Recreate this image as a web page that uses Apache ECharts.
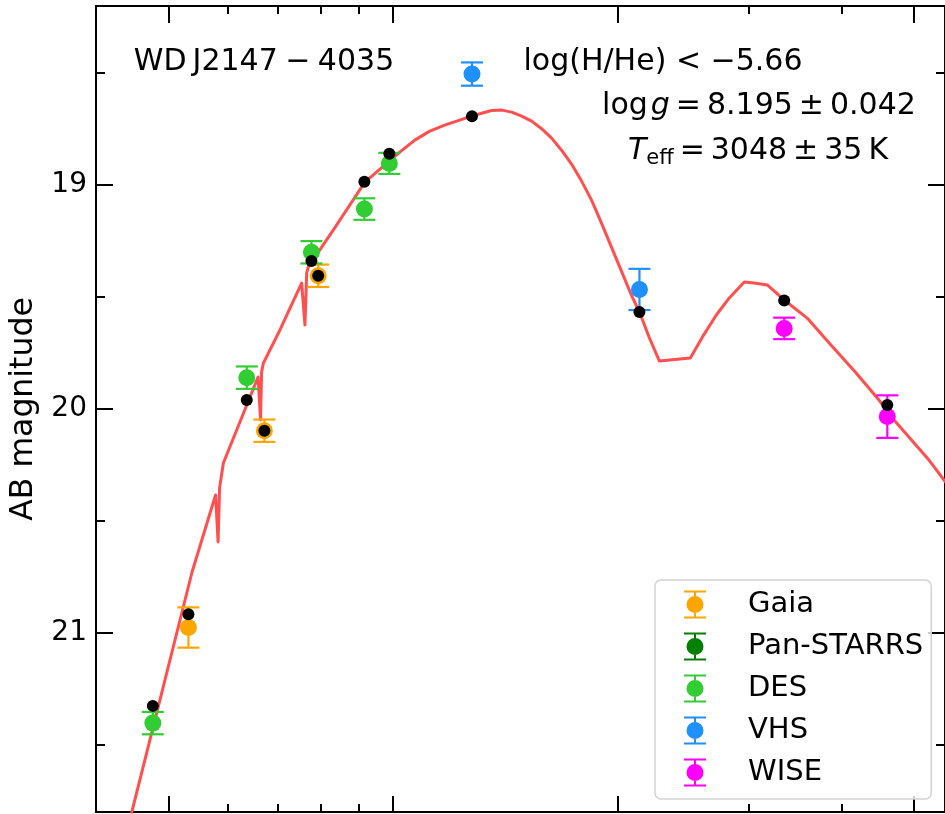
<!DOCTYPE html>
<html>
<head>
<meta charset="utf-8">
<script src="https://cdn.jsdelivr.net/npm/echarts@6/dist/echarts.min.js"></script>
<style>
  html, body { margin: 0; padding: 0; background: #fff; }
  #chart { width: 945px; height: 814px; }
</style>
</head>
<body>
<div id="chart"></div>
<script>
// Model spectrum of the cool helium-atmosphere white dwarf (wavelength in micron, AB mag)
const modelWave = [0.446, 0.5381, 0.5786, 0.5831, 0.5858, 0.5927, 0.6597, 0.6648,
  0.6669, 0.6706, 0.7058, 0.7547, 0.7625, 0.7665, 0.7703, 0.8320, 0.9174, 1.0218,
  1.0702, 1.1208, 1.1738, 1.2292, 1.2757, 1.3154, 1.3566, 1.3996, 1.4434, 1.4885,
  1.5353, 1.5830, 1.6326, 1.6837, 1.7363, 1.7910, 1.8470, 1.9045, 1.9641, 2.0256,
  2.0829, 2.1414, 2.2084, 2.2776, 2.5057, 2.6001, 2.7148, 2.8260, 2.9597, 3.0711,
  3.1769, 3.3477, 3.5938, 3.8463, 4.1803, 4.4856, 4.6986, 5.2345, 5.55];
const modelMag = [21.81, 20.728, 20.384, 20.594, 20.353, 20.241, 19.857, 20.049,
  19.835, 19.795, 19.647, 19.438, 19.625, 19.393, 19.365, 19.201, 18.987, 18.853,
  18.799, 18.759, 18.732, 18.710, 18.692, 18.679, 18.667, 18.665, 18.674, 18.692,
  18.714, 18.748, 18.790, 18.844, 18.906, 18.982, 19.067, 19.170, 19.277, 19.384,
  19.482, 19.567, 19.683, 19.786, 19.772, 19.679, 19.580, 19.504, 19.433, 19.438,
  19.446, 19.513, 19.594, 19.705, 19.839, 19.960, 20.049, 20.228, 20.34];

// Observed photometry per survey, with uncertainties and synthetic model magnitudes
const gaiaWave = [0.5321, 0.6727, 0.7943];
const gaiaMag = [20.976, 20.097, 19.405];
const gaiaErr = [0.09, 0.05, 0.05];
const gaiaSynth = [20.917, 20.097, 19.405];

const panstarrsWave = [];
const panstarrsMag = [];
const panstarrsErr = [];
const panstarrsSynth = [];

const desWave = [0.4767, 0.6371, 0.7779, 0.9160, 0.9893];
const desMag = [21.403, 19.860, 19.300, 19.107, 18.903];
const desErr = [0.05, 0.05, 0.05, 0.048, 0.047];
const desSynth = [21.326, 19.960, 19.339, 18.985, 18.860];

const vhsWave = [1.2769, 2.1414];
const vhsMag = [18.504, 19.466];
const vhsErr = [0.052, 0.092];
const vhsSynth = [18.692, 19.567];

const wiseWave = [3.3477, 4.6026];
const wiseMag = [19.640, 20.034];
const wiseErr = [0.048, 0.095];
const wiseSynth = [19.515, 19.982];

// Axis ticks
const xMajorTicks = [0.5, 1, 2, 5];
const xMinorTicks = [0.6, 0.7, 0.8, 0.9, 3, 4];
const yMajorTicks = [19, 20, 21];
const yMinorTicks = [18.5, 19.5, 20.5, 21.5];
const xRange = [0.4, 5.5];
const yRange = [18.2, 21.8];

const FONT = 'DejaVu Sans';
const lg = Math.log10;

const surveys = [
  { name: 'Gaia', color: '#ffa500', wave: gaiaWave, mag: gaiaMag, err: gaiaErr, synth: gaiaSynth },
  { name: 'Pan-STARRS', color: '#008000', wave: panstarrsWave, mag: panstarrsMag, err: panstarrsErr, synth: panstarrsSynth },
  { name: 'DES', color: '#32cd32', wave: desWave, mag: desMag, err: desErr, synth: desSynth },
  { name: 'VHS', color: '#1e90ff', wave: vhsWave, mag: vhsMag, err: vhsErr, synth: vhsSynth },
  { name: 'WISE', color: '#ff00ff', wave: wiseWave, mag: wiseMag, err: wiseErr, synth: wiseSynth }
];

const chart = echarts.init(document.getElementById('chart'), null, { renderer: 'canvas' });

function xAxisDef(pos, ticks, len, showLine) {
  return {
    type: 'value', position: pos, min: lg(xRange[0]), max: lg(xRange[1]),
    axisLine: { show: showLine, onZero: false, lineStyle: { color: '#000', width: 2 } },
    axisTick: { show: true, inside: true, length: len, customValues: ticks.map(lg), lineStyle: { color: '#000', width: 2 } },
    axisLabel: { show: false },
    splitLine: { show: false }
  };
}
function yAxisDef(pos, ticks, len, showLine, labels) {
  const ax = {
    type: 'value', position: pos, inverse: true, min: yRange[0], max: yRange[1],
    axisLine: { show: showLine, onZero: false, lineStyle: { color: '#000', width: 2 } },
    axisTick: { show: true, inside: true, length: len, customValues: ticks, lineStyle: { color: '#000', width: 2 } },
    axisLabel: { show: false },
    splitLine: { show: false }
  };
  if (labels) {
    ax.axisLabel = { show: true, customValues: ticks, margin: 9, color: '#000', fontSize: 28, fontFamily: FONT };
    ax.name = 'AB magnitude';
    ax.nameLocation = 'middle';
    ax.nameRotate = 90;
    ax.nameGap = 56;
    ax.nameTextStyle = { color: '#000', fontSize: 31.5, fontFamily: FONT };
  }
  return ax;
}

const series = [];
series.push({
  type: 'line', name: 'model', xAxisIndex: 0, yAxisIndex: 0,
  data: modelWave.map((w, i) => [lg(w), modelMag[i]]),
  showSymbol: false, symbol: 'none', clip: true, z: 1,
  lineStyle: { color: '#ff4f4f', width: 3, join: 'round' }
});

surveys.forEach(s => {
  series.push({
    type: 'custom', name: s.name + ' error', xAxisIndex: 0, yAxisIndex: 0, z: 2,
    data: s.wave.map((w, i) => [lg(w), s.mag[i], s.err[i]]),
    renderItem: (params, api) => {
      const x = api.value(0), y = api.value(1), e = api.value(2);
      const a = api.coord([x, y - e]);
      const b = api.coord([x, y + e]);
      const st = { stroke: s.color, lineWidth: 2.2 };
      return {
        type: 'group',
        children: [
          { type: 'line', shape: { x1: a[0], y1: a[1], x2: b[0], y2: b[1] }, style: st },
          { type: 'line', shape: { x1: a[0] - 11, y1: a[1], x2: a[0] + 11, y2: a[1] }, style: st },
          { type: 'line', shape: { x1: b[0] - 11, y1: b[1], x2: b[0] + 11, y2: b[1] }, style: st }
        ]
      };
    }
  });
  series.push({
    type: 'scatter', name: s.name, xAxisIndex: 0, yAxisIndex: 0, z: 3,
    data: s.wave.map((w, i) => [lg(w), s.mag[i]]),
    symbol: 'circle', symbolSize: 17,
    itemStyle: { color: s.color, opacity: 1 }
  });
});

surveys.forEach(s => {
  series.push({
    type: 'scatter', name: s.name + ' synthetic', xAxisIndex: 0, yAxisIndex: 0, z: 4,
    data: s.wave.map((w, i) => [lg(w), s.synth[i]]),
    symbol: 'circle', symbolSize: 12,
    itemStyle: { color: '#000', opacity: 1 }
  });
});

const errIcon = 'path://M0,0H22V2H0Z M10,2H12V6H10Z M10,22H12V26H10Z M0,26H22V28H0Z M19.5,14A8.5,8.5 0 1 1 2.5,14A8.5,8.5 0 1 1 19.5,14Z';

const option = {
  backgroundColor: '#fff',
  animation: false,
  grid: { left: 96, right: -1, top: 6, bottom: 2, containLabel: false },
  xAxis: [
    xAxisDef('bottom', xMajorTicks, 16, true),
    xAxisDef('bottom', xMinorTicks, 8, false),
    xAxisDef('top', xMajorTicks, 17, true),
    xAxisDef('top', xMinorTicks, 8, false)
  ],
  yAxis: [
    yAxisDef('left', yMajorTicks, 17, true, true),
    yAxisDef('left', yMinorTicks, 9, false, false),
    yAxisDef('right', yMajorTicks, 17, true, false),
    yAxisDef('right', yMinorTicks, 9, false, false)
  ],
  legend: {
    data: surveys.map(s => s.name),
    orient: 'vertical', left: 655, top: 580,
    itemWidth: 22, itemHeight: 28, itemGap: 13,
    padding: [10, 8, 12, 29],
    backgroundColor: 'rgba(255,255,255,0.8)',
    borderColor: '#d3d3d3', borderWidth: 1.5, borderRadius: 6,
    icon: errIcon,
    selectedMode: false,
    formatter: n => '{t|' + n + '}',
    textStyle: { rich: { t: { fontSize: 29, fontFamily: FONT, color: '#000', padding: [0, 0, 0, 37] } } }
  },
  graphic: [
    {
      type: 'text', x: 264, y: 62, z: 10,
      style: { text: 'WD\u2009J2147\u2005\u2212\u20054035', fontSize: 30, fontFamily: FONT, fill: '#000', align: 'center', verticalAlign: 'middle' }
    },
    {
      type: 'text', x: 663, y: 62, z: 10,
      style: { text: 'log(H/He) < \u22125.66', fontSize: 30, fontFamily: FONT, fill: '#000', align: 'center', verticalAlign: 'middle' }
    },
    {
      type: 'text', x: 759, y: 106, z: 10,
      style: {
        text: '{n|log\u200a}{i|g}{n|\u2009=\u20098.195\u2009\u00b1\u20090.042}',
        align: 'center', verticalAlign: 'middle', fill: '#000',
        rich: {
          n: { fontSize: 30, fontFamily: FONT, fill: '#000' },
          i: { fontSize: 30, fontFamily: FONT, fontStyle: 'italic', fill: '#000' }
        }
      }
    },
    {
      type: 'text', x: 758, y: 151, z: 10,
      style: {
        text: '{i|T}{s|eff}{n|\u2009=\u20093048\u2009\u00b1\u200935\u2009K}',
        align: 'center', verticalAlign: 'middle', fill: '#000',
        rich: {
          n: { fontSize: 30, fontFamily: FONT, fill: '#000', lineHeight: 36 },
          i: { fontSize: 30, fontFamily: FONT, fontStyle: 'italic', fill: '#000', lineHeight: 36 },
          s: { fontSize: 21, fontFamily: FONT, fill: '#000', lineHeight: 21, verticalAlign: 'bottom' }
        }
      }
    }
  ],
  series: series
};

chart.setOption(option);
</script>
</body>
</html>
